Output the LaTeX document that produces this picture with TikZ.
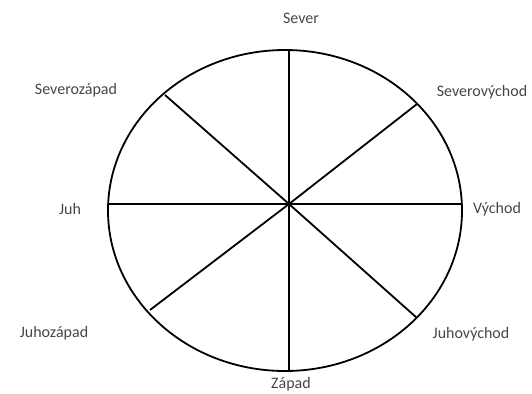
\documentclass[tikz,border=0pt]{standalone}
\usepackage{fontspec}
\setmainfont{Carlito}
\usepackage{tikz}
\usetikzlibrary{positioning}
\definecolor{LabelGray}{RGB}{70,70,70}
\tikzset{
  dirlabel/.style={font=\fontsize{16}{18}\selectfont,text=LabelGray,inner sep=0pt,anchor=center},
  spoke/.style={line width=1.8pt,draw=black},
  rim/.style={line width=1.8pt,draw=black}
}

\begin{document}
\begin{tikzpicture}[x=1pt,y=-1pt]
\useasboundingbox (0,0) rectangle (532,393);
% wheel
\draw[rim] (285,210.5) ellipse [x radius=177, y radius=160.5];
\coordinate (c) at (289,204);
\coordinate (n) at (289,50);
\coordinate (s) at (289,371);
\coordinate (e) at (462,204);
\coordinate (w) at (108,204);
\coordinate (nw) at (165,95);
\coordinate (ne) at (417,104);
\coordinate (sw) at (150,310);
\coordinate (se) at (417,318);
\foreach \p in {n,s,e,w,nw,ne,sw,se}
  \draw[spoke] (c) -- (\p);
\fill (c) circle (2.2pt);

% labels
\node[dirlabel] (sever) at (301,18) {Sever};
\node[dirlabel] (severozapad) at (76,90) {Severozápad};
\node[dirlabel] (severovychod) at (482,92) {Severovýchod};
\node[dirlabel] (juh) at (70,209) {Juh};
\node[dirlabel] (vychod) at (497,209) {Východ};
\node[dirlabel] (juhozapad) at (54,333) {Juhozápad};
\node[dirlabel] (juhovychod) at (471,334) {Juhovýchod};
\node[dirlabel] (zapad) at (291,384) {Západ};
\end{tikzpicture}
\end{document}
